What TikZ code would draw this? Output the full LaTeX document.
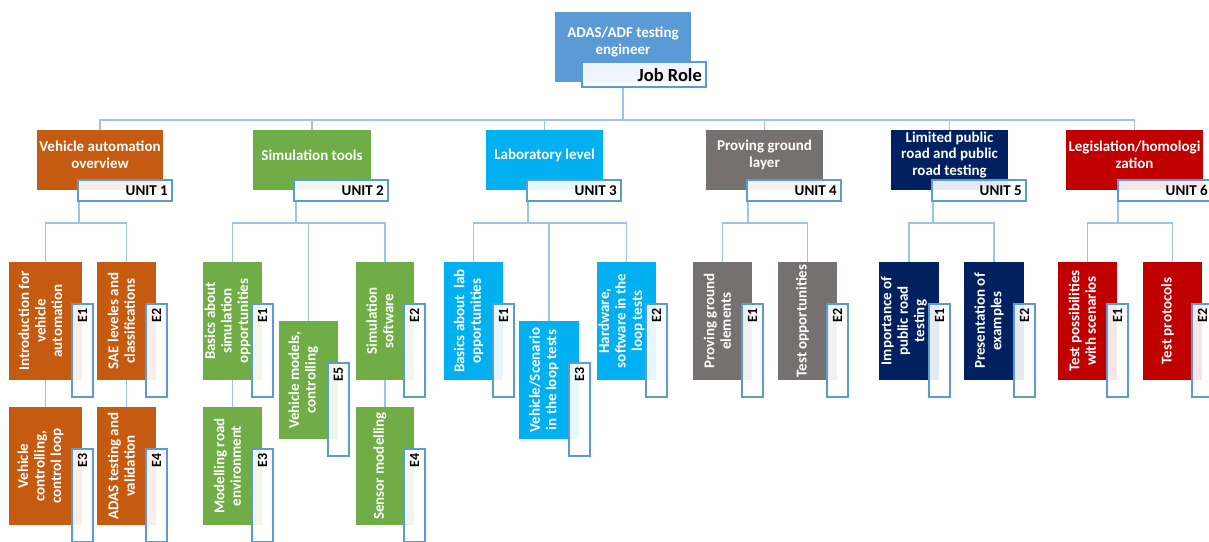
\documentclass[tikz,border=0pt]{standalone}
\usepackage{fontspec}
\setmainfont{Carlito}
\usetikzlibrary{backgrounds}
\definecolor{rootC}{HTML}{5B9BD5}
\definecolor{uA}{HTML}{C55A11}
\definecolor{uB}{HTML}{70AD47}
\definecolor{uC}{HTML}{00B0F0}
\definecolor{uD}{HTML}{767171}
\definecolor{uE}{HTML}{002060}
\definecolor{uF}{HTML}{C00000}
\definecolor{connC}{HTML}{9DC3E6}
\definecolor{labC}{HTML}{5B9BD5}
\tikzset{
  conn/.style={draw=connC, line width=1.3pt},
  ebox/.style={rectangle, inner sep=0pt, outer sep=0pt},
  labbox/.style={rectangle, inner sep=0pt, outer sep=0pt, draw=labC, line width=1.3pt, fill=white, fill opacity=0.9},
  etext/.style={text=white, font=\bfseries\fontsize{15}{16.5}\selectfont, align=center, rotate=90, inner sep=0pt},
  utext/.style={text=white, font=\bfseries\fontsize{15}{16.5}\selectfont, align=center, inner sep=0pt},
  elab/.style={text=black, font=\bfseries\fontsize{14}{16}\selectfont, rotate=90, anchor=east, inner sep=0pt},
  ulab/.style={text=black, font=\bfseries\fontsize{15}{17}\selectfont, anchor=east, inner sep=0pt},
}
\newcommand\mkbox[6]{%
  \pgfmathsetmacro\bw{#4-(#2)}\pgfmathsetmacro\bh{#5-(#3)}%
  \node[#6, minimum width=\bw pt, minimum height=\bh pt, anchor=north west] (#1) at (#2,#3) {};}
\newcommand\elem[8]{%
  \pgfmathsetmacro\ex{#4-10}\pgfmathsetmacro\ey{#3+42}%
  \pgfmathsetmacro\exx{#4+11}\pgfmathsetmacro\eyy{#3+135}%
  \pgfmathsetmacro\tx{(#2+#4-10)/2}\pgfmathsetmacro\ty{(#3+#5)/2}%
  \pgfmathsetmacro\lx{#4+0.5}\pgfmathsetmacro\ly{#3+46}%
  \mkbox{#1}{#2}{#3}{#4}{#5}{ebox,fill=#6}%
  \node[etext] (#1t) at (\tx,\ty) {#7};%
  \mkbox{#1l}{\ex}{\ey}{\exx}{\eyy}{labbox}%
  \node[elab] (#1n) at (\lx,\ly) {#8};}
\newcommand\unitbox[7]{%
  \pgfmathsetmacro\ux{(#2+#3)/2}\pgfmathsetmacro\lxx{#4+94}\pgfmathsetmacro\lt{#4+90}%
  \mkbox{#1}{#2}{130}{#3}{190}{ebox,fill=#5}%
  \node[utext] (#1t) at (\ux,155) {#6};%
  \mkbox{#1l}{#4}{180}{\lxx}{201}{labbox}%
  \node[ulab] (#1n) at (\lt,190.5) {#7};}
\begin{document}
\begin{tikzpicture}[x=1pt,y=-1pt]
\useasboundingbox (0,0) rectangle (1209,541);
% root
\mkbox{root}{555}{12}{691}{82}{ebox,fill=rootC}
\node[utext, font=\bfseries\fontsize{15}{17}\selectfont] (roott) at (623,42) {ADAS/ADF testing\\engineer};
\mkbox{rootl}{582}{62}{706}{87}{labbox}
\node[ulab, font=\bfseries\fontsize{18.5}{20}\selectfont] (rootn) at (702,75) {Job Role};
% units
\unitbox{u1}{37}{163}{78}{uA}{Vehicle automation\\overview}{UNIT 1}
\unitbox{u2}{253}{371}{294}{uB}{Simulation tools}{UNIT 2}
\unitbox{u3}{486}{603}{527}{uC}{Laboratory level}{UNIT 3}
\unitbox{u4}{706}{823}{747}{uD}{Proving ground\\layer}{UNIT 4}
\unitbox{u5}{891}{1008}{932}{uE}{Limited public\\road and public\\road testing}{UNIT 5}
\unitbox{u6}{1066}{1203}{1118}{uF}{Legislation/homologi\\zation}{UNIT 6}
% unit 1 elements
\elem{e11}{9}{262}{82}{380}{uA}{Introduction for\\vehicle\\automation}{E1}
\elem{e12}{97}{262}{156}{380}{uA}{SAE leveles and\\classifications}{E2}
\elem{e13}{9}{407}{82}{525}{uA}{Vehicle\\controlling,\\control loop}{E3}
\elem{e14}{97}{407}{156}{525}{uA}{ADAS testing and\\validation}{E4}
% unit 2 elements
\elem{e21}{203}{262}{262}{380}{uB}{Basics about\\simulation\\opportunities}{E1}
\elem{e25}{279}{321}{338}{439}{uB}{Vehicle models,\\controlling}{E5}
\elem{e22}{356}{262}{414}{380}{uB}{Simulation\\software}{E2}
\elem{e23}{203}{407}{262}{525}{uB}{Modelling road\\environment}{E3}
\elem{e24}{356}{407}{414}{525}{uB}{Sensor modelling}{E4}
% unit 3 elements
\elem{e31}{444}{262}{503}{380}{uC}{Basics about\ \ lab\\opportunities}{E1}
\elem{e33}{519}{321}{579}{439}{uC}{Vehicle/Scenario\\in the loop tests}{E3}
\elem{e32}{597}{262}{656}{380}{uC}{Hardware,\\software in the\\loop tests}{E2}
% unit 4 elements
\elem{e41}{693}{262}{752}{380}{uD}{Proving ground\\elements}{E1}
\elem{e42}{778}{262}{837}{380}{uD}{Test opportunities}{E2}
% unit 5 elements
\elem{e51}{879}{262}{939}{380}{uE}{Importance of\\public road\\testing}{E1}
\elem{e52}{964}{262}{1024}{380}{uE}{Presentation of\\examples}{E2}
% unit 6 elements
\elem{e61}{1058}{262}{1117}{380}{uF}{Test possibilities\\with scenarios}{E1}
\elem{e62}{1143}{262}{1202}{380}{uF}{Test protocols}{E2}
% connectors
\begin{pgfonlayer}{background}
\fill[white] (0,0) rectangle (1209,541);
\coordinate (bus) at (0,120);
\draw[conn] (root.south |- rootl.south) -- (root.south |- bus);
\draw[conn] (u1.north) -- (u1.north |- bus) -- (u6.north |- bus) -- (u6.north);
\foreach \u in {u2,u3,u4,u5} \draw[conn] (\u.north |- bus) -- (\u.north);
\coordinate (b1) at (79,223);
\coordinate (b2) at (296,223);
\coordinate (b3) at (528,223);
\coordinate (b4) at (748,223);
\coordinate (b5) at (933,223);
\coordinate (b6) at (1118,223);
\draw[conn] (b1 |- u1l.south) -- (b1);
\draw[conn] (b2 |- u2l.south) -- (b2);
\draw[conn] (b3 |- u3l.south) -- (b3);
\draw[conn] (b4 |- u4l.south) -- (b4);
\draw[conn] (b5 |- u5l.south) -- (b5);
\draw[conn] (b6 |- u6l.south) -- (b6);
\draw[conn] (e11.north) |- (b1) -| (e12.north);
\draw[conn] (e11.south) -- (e13.north);
\draw[conn] (e12.south) -- (e14.north);
\draw[conn] (e21.north) |- (b2) -| (e22.north);
\draw[conn] (e25.north) -- (e25.north |- b2);
\draw[conn] (e21.south) -- (e23.north);
\draw[conn] (e22.south) -- (e24.north);
\draw[conn] (e31.north) |- (b3) -| (e32.north);
\draw[conn] (e33.north) -- (e33.north |- b3);
\draw[conn] (e41.north) |- (b4) -| (e42.north);
\draw[conn] (e51.north) |- (b5) -| (e52.north);
\draw[conn] (e61.north) |- (b6) -| (e62.north);
\end{pgfonlayer}
\end{tikzpicture}
\end{document}
